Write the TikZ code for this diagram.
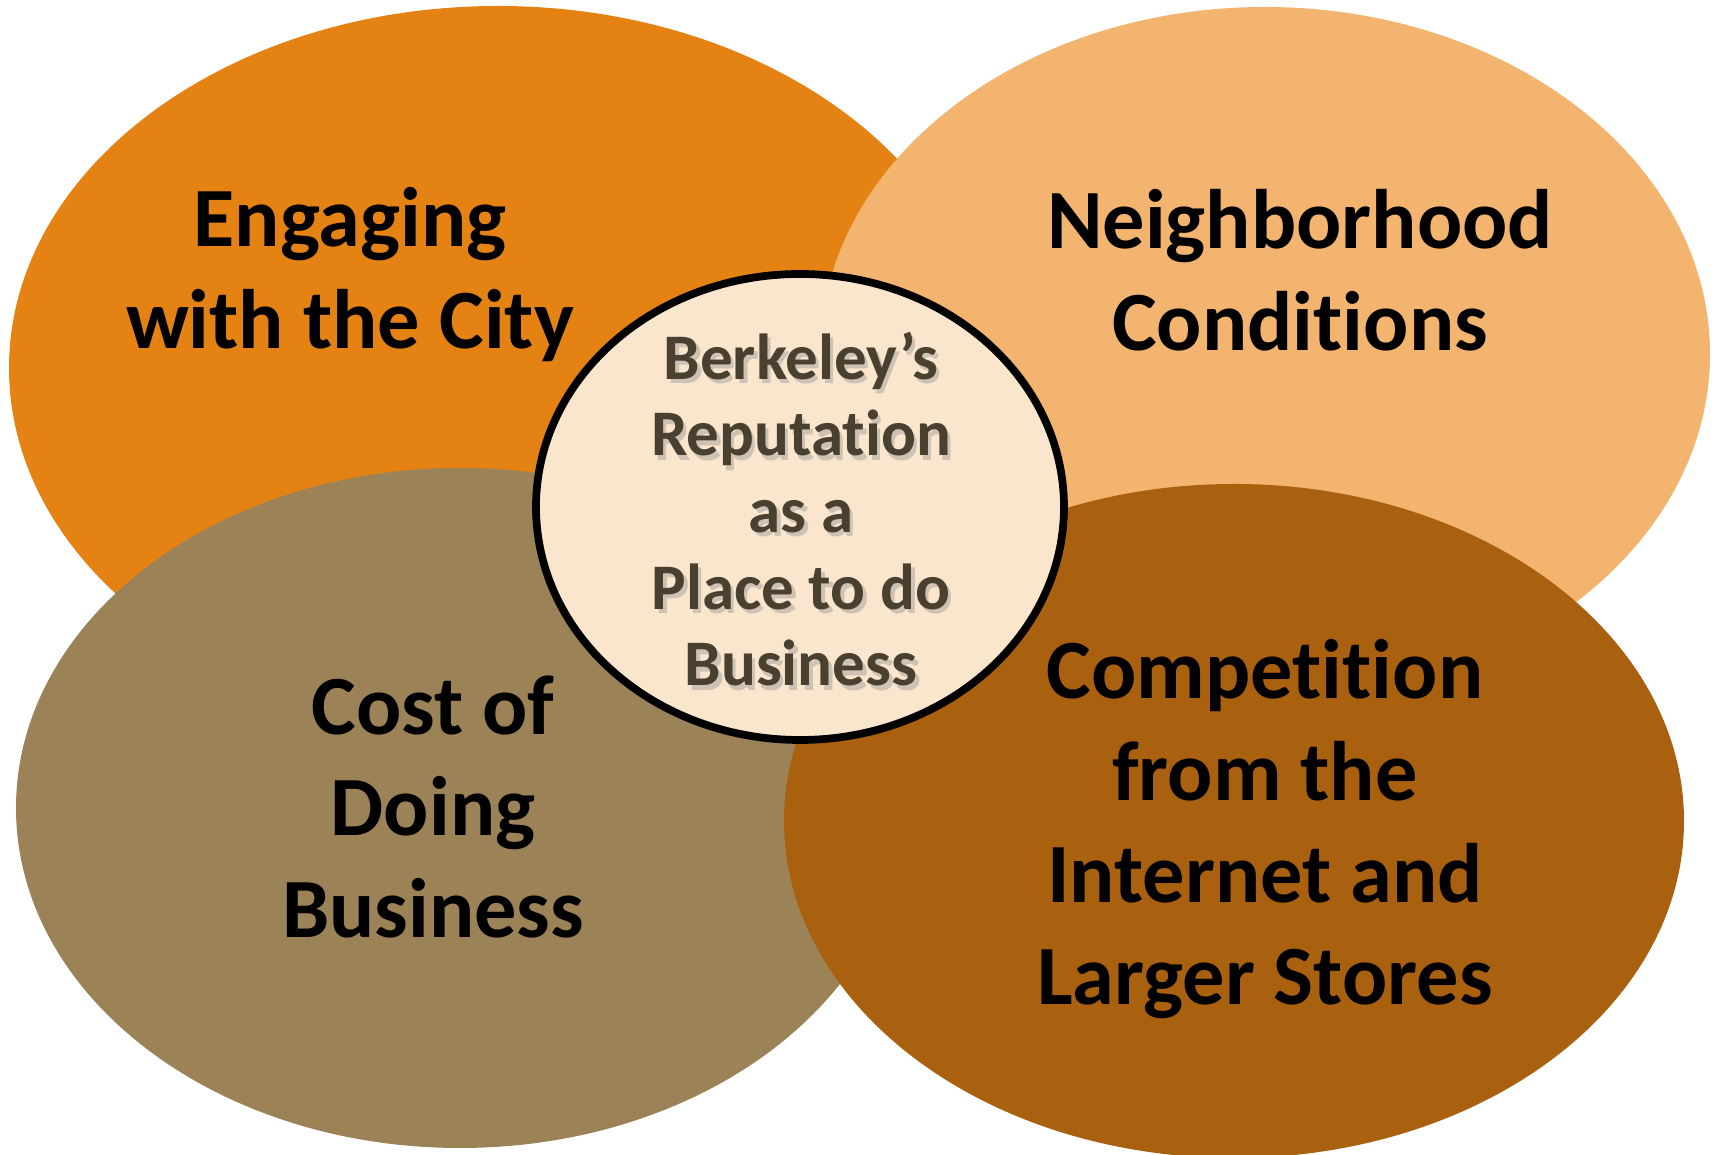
\documentclass[tikz,border=0pt]{standalone}
\usepackage{fontspec}
\setmainfont{Carlito}[Ligatures=NoCommon]
\usetikzlibrary{shapes.geometric}

\definecolor{engorange}{HTML}{E58214}
\definecolor{nbhorange}{HTML}{F2B46E}
\definecolor{costkhaki}{HTML}{9C8357}
\definecolor{compbrown}{HTML}{A9600F}
\definecolor{repcream}{HTML}{FAE5CD}
\definecolor{reptext}{HTML}{4A4030}

\begin{document}
\begin{tikzpicture}[
		blob/.style={ellipse, inner sep=0pt},
		topic/.style={align=center, font=\fontsize{24}{29}\selectfont\bfseries, text=black},
		core/.style={blob, draw=black, line width=2.2pt, fill=repcream},
		coretext/.style={align=center, font=\fontsize{18.5}{21.8}\selectfont\bfseries},
	]
		\useasboundingbox (0,0) rectangle (17.17,11.55);

		\node (eng) [blob, fill=engorange, minimum width=9.78cm, minimum height=7.24cm] at (4.98,7.87) {};
		\node (nbh) [blob, fill=nbhorange, minimum width=8.90cm, minimum height=6.94cm] at (12.65,8.01) {};
		\node (cost) [blob, fill=costkhaki, minimum width=8.88cm, minimum height=6.80cm] at (4.60,3.47) {};
		\node (comp) [blob, fill=compbrown, minimum width=9.00cm, minimum height=6.74cm] at (12.34,3.34) {};
		\node (rep) [core, minimum width=5.28cm, minimum height=4.66cm] at (8.00,6.48) {};

		\node (engtxt) [topic] at (3.50,8.80) {Engaging\\with the City};
		\node (nbhtxt) [topic] at (13.00,8.85) {Neighborhood\\Conditions};
		\node (costtxt) [topic] at (4.33,3.48) {Cost of\\Doing\\Business};
		\node (comptxt) [topic] at (12.65,3.26) {Competition\\from the\\Internet and\\Larger Stores};

		% soft drop shadow under the centre text
		\node (repshadow) [coretext, text=black!40, opacity=0.45] at (8.045,6.415) {Berkeley’s\\Reputation\\as a\\Place to do\\Business};
		\node (reptxt) [coretext, text=reptext] at (8.01,6.46) {Berkeley’s\\Reputation\\as a\\Place to do\\Business};
	\end{tikzpicture}
\end{document}
